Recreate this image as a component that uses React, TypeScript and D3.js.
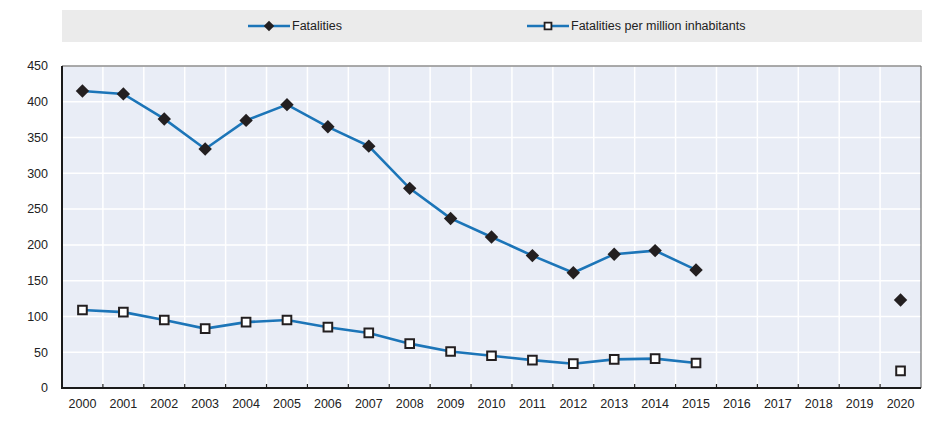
import React, { useEffect, useRef } from 'react';
import * as d3 from 'd3';

const years = ['2000', '2001', '2002', '2003', '2004', '2005', '2006', '2007', '2008', '2009', '2010',
  '2011', '2012', '2013', '2014', '2015', '2016', '2017', '2018', '2019', '2020'];

// null = no data for that year
const fatalities: (number | null)[] = [415, 411, 376, 334, 374, 396, 365, 338, 279, 237, 211,
  185, 161, 187, 192, 165, null, null, null, null, 123];

const perMillion: (number | null)[] = [109, 106, 95, 83, 92, 95, 85, 77, 62, 51, 45,
  39, 34, 40, 41, 35, null, null, null, null, 24];

const yTicks = [0, 50, 100, 150, 200, 250, 300, 350, 400, 450];

const FONT = "'Liberation Sans Narrow', 'Arial Narrow', 'Liberation Sans', Arial, sans-serif";
const LINE = '#1c75b8';

const App = () => {
  const ref = useRef<SVGSVGElement>(null);

  useEffect(() => {
    const width = 942;
    const height = 431;
    const margin = { top: 66, right: 21, bottom: 43, left: 62 };

    const svg = d3.select(ref.current);
    svg.selectAll('*').remove();
    svg.attr('width', width).attr('height', height);

    const x = d3.scaleBand().domain(years).range([margin.left, width - margin.right]);
    const y = d3.scaleLinear().domain([0, 450]).range([height - margin.bottom, margin.top]);

    // legend band
    const lg = svg.append('g');
    lg.append('rect')
      .attr('x', margin.left).attr('y', 10)
      .attr('width', width - margin.right - margin.left + 1).attr('height', 32)
      .attr('fill', '#ebebeb');

    // plot background
    svg.append('rect')
      .attr('x', margin.left).attr('y', margin.top)
      .attr('width', width - margin.right - margin.left)
      .attr('height', height - margin.bottom - margin.top)
      .attr('fill', '#e9edf6');

    // grid
    svg.append('g')
      .selectAll('line')
      .data(yTicks.slice(1))
      .join('line')
      .attr('x1', margin.left).attr('x2', width - margin.right)
      .attr('y1', d => y(d)).attr('y2', d => y(d))
      .attr('stroke', '#fff').attr('stroke-width', 1.5);

    svg.append('g')
      .selectAll('line')
      .data(years.slice(1))
      .join('line')
      .attr('x1', d => x(d)!).attr('x2', d => x(d)!)
      .attr('y1', margin.top).attr('y2', height - margin.bottom)
      .attr('stroke', '#fff').attr('stroke-width', 1.5);

    // border top/right
    svg.append('path')
      .attr('d', `M${margin.left},${margin.top}H${width - margin.right}V${height - margin.bottom}`)
      .attr('fill', 'none').attr('stroke', '#555').attr('stroke-width', 1);

    // x ticks (inside)
    svg.append('g')
      .selectAll('line')
      .data(years.slice(1))
      .join('line')
      .attr('x1', d => x(d)!).attr('x2', d => x(d)!)
      .attr('y1', height - margin.bottom).attr('y2', height - margin.bottom - 4)
      .attr('stroke', '#222').attr('stroke-width', 1.2);

    // axes lines
    svg.append('path')
      .attr('d', `M${margin.left},${margin.top}V${height - margin.bottom}H${width - margin.right}`)
      .attr('fill', 'none').attr('stroke', '#1a1a1a').attr('stroke-width', 2);

    // y labels
    svg.append('g')
      .selectAll('text')
      .data(yTicks)
      .join('text')
      .attr('x', 48).attr('y', d => y(d))
      .attr('dy', '0.35em')
      .attr('text-anchor', 'end')
      .attr('font-family', FONT).attr('font-size', 12.5).attr('fill', '#222')
      .text(d => d);

    // x labels
    svg.append('g')
      .selectAll('text')
      .data(years)
      .join('text')
      .attr('x', d => x(d)! + x.bandwidth() / 2).attr('y', height - margin.bottom + 16)
      .attr('dy', '0.35em')
      .attr('text-anchor', 'middle')
      .attr('font-family', FONT).attr('font-size', 12.5).attr('fill', '#222')
      .text(d => d);

    const cx = (i: number) => x(years[i])! + x.bandwidth() / 2;
    const line = d3.line<number | null>()
      .defined(d => d !== null)
      .x((_, i) => cx(i))
      .y(d => y(d as number));

    const diamond = d3.symbol().type(d3.symbolDiamond2).size(115);
    const square = d3.symbol().type(d3.symbolSquare2).size(95);

    const drawSeries = (values: (number | null)[], kind: 'diamond' | 'square') => {
      svg.append('path')
        .datum(values)
        .attr('d', line)
        .attr('fill', 'none').attr('stroke', LINE).attr('stroke-width', 2.6);

      const pts = values.map((v, i) => ({ v, i })).filter(d => d.v !== null);
      const g = svg.append('g');
      if (kind === 'diamond') {
        g.selectAll('path').data(pts).join('path')
          .attr('transform', d => `translate(${cx(d.i)},${y(d.v as number)})`)
          .attr('d', diamond()!)
          .attr('fill', '#231f20');
      } else {
        g.selectAll('path').data(pts).join('path')
          .attr('transform', d => `translate(${cx(d.i)},${y(d.v as number)})`)
          .attr('d', square()!)
          .attr('fill', '#fff').attr('stroke', '#231f20').attr('stroke-width', 2);
      }
    };

    drawSeries(fatalities, 'diamond');
    drawSeries(perMillion, 'square');

    // legend items
    const items = [
      { label: 'Fatalities', x0: 248, kind: 'diamond' },
      { label: 'Fatalities per million inhabitants', x0: 527, kind: 'square' },
    ];
    items.forEach(it => {
      const ly = 26;
      lg.append('line')
        .attr('x1', it.x0).attr('x2', it.x0 + 42)
        .attr('y1', ly).attr('y2', ly)
        .attr('stroke', LINE).attr('stroke-width', 2.6);
      const s = lg.append('path')
        .attr('transform', `translate(${it.x0 + 21},${ly})`);
      if (it.kind === 'diamond') {
        s.attr('d', d3.symbol().type(d3.symbolDiamond2).size(70)()!).attr('fill', '#231f20');
      } else {
        s.attr('d', d3.symbol().type(d3.symbolSquare2).size(60)()!)
          .attr('fill', '#fff').attr('stroke', '#231f20').attr('stroke-width', 1.8);
      }
      lg.append('text')
        .attr('x', it.x0 + 44).attr('y', ly)
        .attr('dy', '0.35em')
        .attr('font-family', FONT).attr('font-size', 12.5).attr('fill', '#222')
        .text(it.label);
    });
  }, []);

  return <svg ref={ref} style={{ position: 'absolute', left: 0, top: 0 }}></svg>;
};

export default App;
